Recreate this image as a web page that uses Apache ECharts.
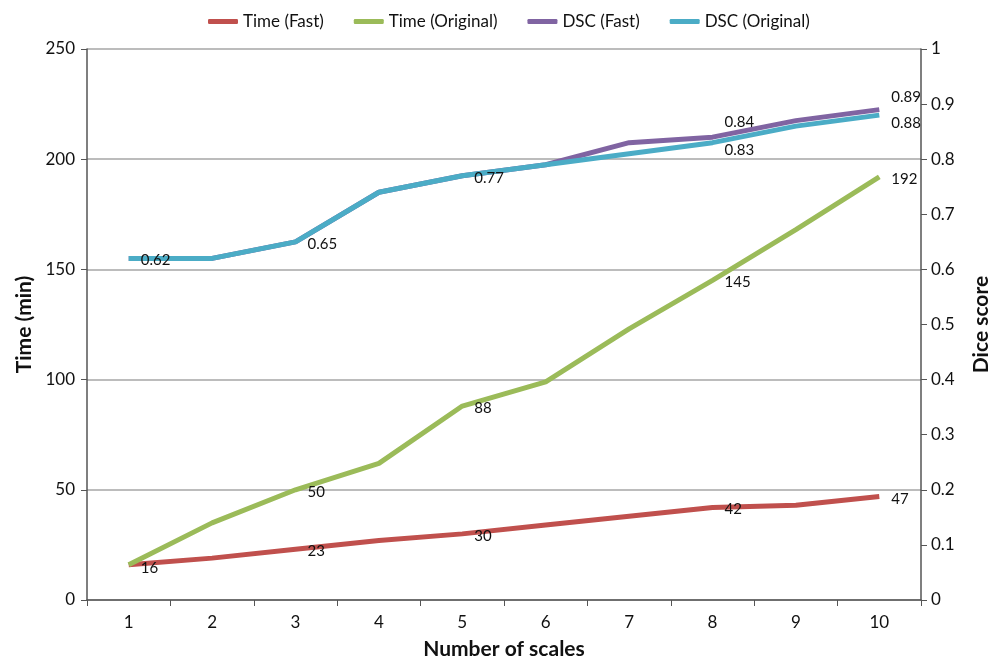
<!DOCTYPE html>
<html><head><meta charset="utf-8">
<script src="https://cdn.jsdelivr.net/npm/echarts@6/dist/echarts.min.js"></script>
<style>html,body{margin:0;padding:0;background:#fff}#c{width:989px;height:661px}</style>
</head><body><div id="c"></div>
<script>
const categories = ['1','2','3','4','5','6','7','8','9','10'];
const timeFast = [16, 19, 23, 27, 30, 34, 38, 42, 43, 47];
const timeOriginal = [16, 35, 50, 62, 88, 99, 123, 145, 168, 192];
const dscFast = [0.62, 0.62, 0.65, 0.74, 0.77, 0.79, 0.83, 0.84, 0.87, 0.89];
const dscOriginal = [0.62, 0.62, 0.65, 0.74, 0.77, 0.79, 0.81, 0.83, 0.86, 0.88];
const timeFastLabelIdx = [0, 2, 4, 7, 9];
const timeOrigLabelIdx = [2, 4, 7, 9];
const dscFastLabelIdx = [7, 9];
const dscOrigLabelIdx = [0, 2, 4, 7, 9];
const FONT = 'Lato, "Open Sans", sans-serif';

function pts(values, idxs, dy) {
  return values.map((v, i) => {
    if (!idxs.includes(i)) return { value: v };
    return { value: v, label: { show: true, position: 'right', distance: 12, offset: [0, (dy && dy[i]) || 2] } };
  });
}

const chart = echarts.init(document.getElementById('c'));
const lbl = { color: '#111', fontSize: 15, fontFamily: FONT };
const common = { type: 'line', symbol: 'circle', symbolSize: 0, showSymbol: true, label: lbl };
chart.setOption({
  animation: false,
  textStyle: { fontFamily: FONT },
  legend: {
    top: 8, left: 203, itemWidth: 30, itemHeight: 5, itemGap: 30,
    icon: 'roundRect',
    textStyle: { fontSize: 17, color: '#111', fontFamily: FONT },
    data: ['Time (Fast)', 'Time (Original)', 'DSC (Fast)', 'DSC (Original)']
  },
  grid: { left: 87, right: 68, top: 49, bottom: 61, outerBoundsMode: 'none', containLabel: false },
  xAxis: {
    type: 'category', data: categories, boundaryGap: true,
    name: 'Number of scales', nameLocation: 'middle', nameGap: 39,
    nameTextStyle: { fontSize: 21, fontWeight: 'bold', color: '#111', fontFamily: FONT },
    axisLine: { lineStyle: { color: '#555', width: 1.5 } },
    axisTick: { show: true, length: 6, lineStyle: { color: '#555' } },
    axisLabel: { fontSize: 17, color: '#111', margin: 14 }
  },
  yAxis: [{
    type: 'value', min: 0, max: 250, interval: 50,
    name: 'Time (min)', nameLocation: 'middle', nameGap: 52, nameRotate: 90,
    nameTextStyle: { fontSize: 21, fontWeight: 'bold', color: '#111', fontFamily: FONT },
    axisLine: { show: true, lineStyle: { color: '#555', width: 1.5 } },
    axisTick: { show: true, length: 6, lineStyle: { color: '#555' } },
    axisLabel: { fontSize: 17, color: '#111', margin: 12 },
    splitLine: { lineStyle: { color: '#a6a6a6', width: 1.5 } }
  }, {
    type: 'value', min: 0, max: 1, interval: 0.1,
    name: 'Dice score', nameLocation: 'middle', nameGap: 50, nameRotate: 90,
    nameTextStyle: { fontSize: 21, fontWeight: 'bold', color: '#111', fontFamily: FONT },
    axisLine: { show: true, lineStyle: { color: '#555', width: 1.5 } },
    axisTick: { show: true, length: 6, lineStyle: { color: '#555' } },
    axisLabel: { fontSize: 17, color: '#111', margin: 10, formatter: v => String(+v.toFixed(1)) },
    splitLine: { show: false }
  }],
  series: [
    Object.assign({}, common, {
      name: 'Time (Fast)', yAxisIndex: 0,
      lineStyle: { width: 5, color: '#c0504d' }, itemStyle: { color: '#c0504d' },
      data: pts(timeFast, timeFastLabelIdx, { 0: 3, 9: 3 }),
      z: 2
    }),
    Object.assign({}, common, {
      name: 'Time (Original)', yAxisIndex: 0,
      lineStyle: { width: 5, color: '#9bbb59' }, itemStyle: { color: '#9bbb59' },
      data: pts(timeOriginal, timeOrigLabelIdx, {}),
      z: 3
    }),
    Object.assign({}, common, {
      name: 'DSC (Fast)', yAxisIndex: 1,
      lineStyle: { width: 5, color: '#8064a2' }, itemStyle: { color: '#8064a2' },
      data: pts(dscFast, dscFastLabelIdx, { 7: -15, 9: -12 }),
      z: 4
    }),
    Object.assign({}, common, {
      name: 'DSC (Original)', yAxisIndex: 1,
      lineStyle: { width: 5, color: '#4bacc6' }, itemStyle: { color: '#4bacc6' },
      data: pts(dscOriginal, dscOrigLabelIdx, { 7: 7, 9: 8 }),
      z: 5
    })
  ]
});
</script></body></html>
